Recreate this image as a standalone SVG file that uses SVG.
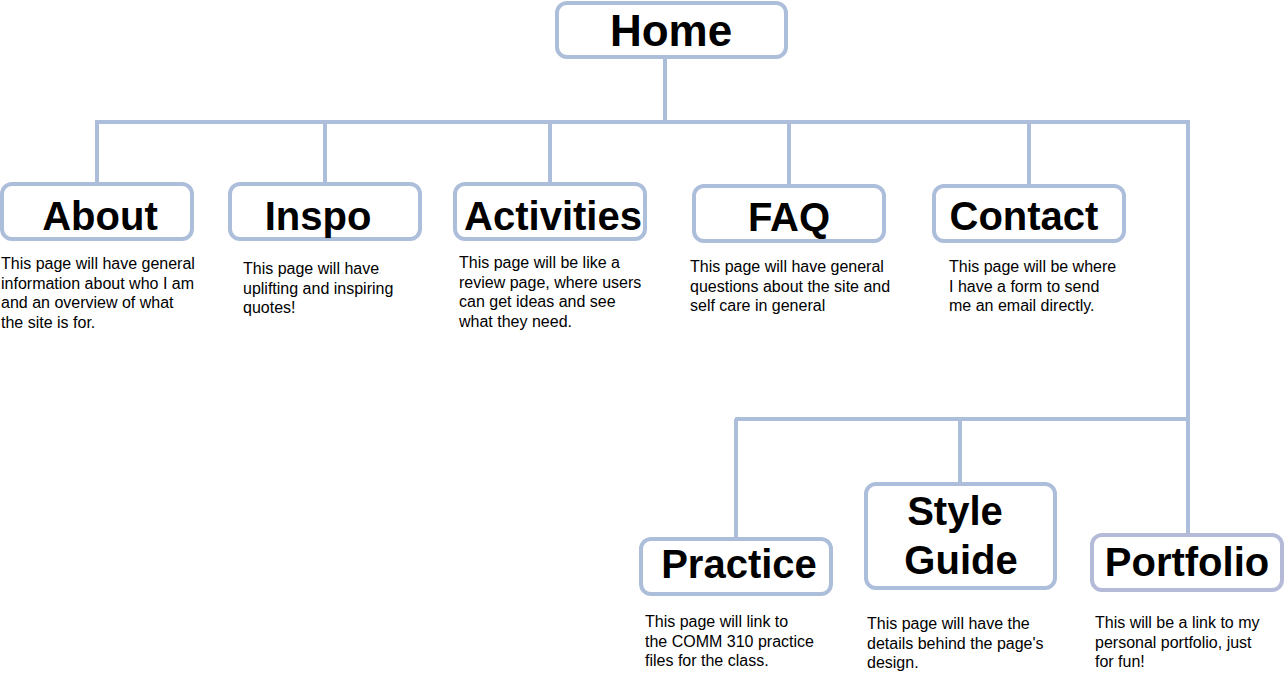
<svg xmlns="http://www.w3.org/2000/svg" width="1285" height="673" viewBox="0 0 1285 673">
<style>
.box{fill:#ffffff;stroke:#adbedb;stroke-width:4}
.ln{stroke:#adbedb;stroke-width:4;fill:none}
.t{font-family:"Liberation Sans",Arial,sans-serif;font-weight:bold;font-size:40px;fill:#000;text-anchor:middle}
.d{font-family:"Liberation Sans",Arial,sans-serif;font-size:16px;fill:#000}
</style>
<rect width="1285" height="673" fill="#ffffff"/>
<g id="connectors">
<path class="ln" d="M665 57V122M96 122H1190M97 120V183M325 120V183M550 120V183M789 122V185M1029 122V185M1188 122V535M735 419H1190M736 419V539M960 419V484"/>
</g>
<g id="home"><rect class="box" x="557" y="3" width="229" height="54" rx="10"/><text class="t" x="671" y="46" style="font-size:44px">Home</text></g>
<g id="about"><rect class="box" x="2" y="184" width="190" height="55" rx="10"/><text class="t" x="100" y="230">About</text>
<text class="d" x="1"><tspan x="1" y="269">This page will have general</tspan><tspan x="1" y="288.5">information about who I am</tspan><tspan x="1" y="308">and an overview of what</tspan><tspan x="1" y="327.5">the site is for.</tspan></text></g>
<g id="inspo"><rect class="box" x="230" y="184" width="190" height="55" rx="10"/><text class="t" x="318" y="230">Inspo</text>
<text class="d"><tspan x="243" y="274">This page will have</tspan><tspan x="243" y="293.5">uplifting and inspiring</tspan><tspan x="243" y="313">quotes!</tspan></text></g>
<g id="activities"><rect class="box" x="455" y="184" width="190" height="55" rx="10"/><text class="t" x="553" y="230">Activities</text>
<text class="d"><tspan x="459" y="268">This page will be like a</tspan><tspan x="459" y="287.5">review page, where users</tspan><tspan x="459" y="307">can get ideas and see</tspan><tspan x="459" y="326.5">what they need.</tspan></text></g>
<g id="faq"><rect class="box" x="694" y="186" width="190" height="55" rx="10"/><text class="t" x="789" y="231">FAQ</text>
<text class="d"><tspan x="690" y="272">This page will have general</tspan><tspan x="690" y="291.5">questions about the site and</tspan><tspan x="690" y="311">self care in general</tspan></text></g>
<g id="contact"><rect class="box" x="934" y="186" width="190" height="55" rx="10"/><text class="t" x="1024" y="230">Contact</text>
<text class="d"><tspan x="949" y="272">This page will be where</tspan><tspan x="949" y="291.5">I have a form to send</tspan><tspan x="949" y="311">me an email directly.</tspan></text></g>
<g id="practice"><rect class="box" x="641" y="539" width="190" height="55" rx="10"/><text class="t" x="739" y="578">Practice</text>
<text class="d"><tspan x="645" y="627">This page will link to</tspan><tspan x="645" y="646.5">the COMM 310 practice</tspan><tspan x="645" y="666">files for the class.</tspan></text></g>
<g id="styleguide"><rect class="box" x="866" y="484" width="189" height="104" rx="10"/><text class="t" x="955" y="525">Style</text><text class="t" x="961" y="574">Guide</text>
<text class="d"><tspan x="867" y="629">This page will have the</tspan><tspan x="867" y="648.5">details behind the page's</tspan><tspan x="867" y="668">design.</tspan></text></g>
<g id="portfolio"><rect class="box" x="1092" y="535" width="190" height="55" rx="10" style="stroke:#b4bad8"/><text class="t" x="1187" y="576">Portfolio</text>
<text class="d"><tspan x="1095" y="628">This will be a link to my</tspan><tspan x="1095" y="647.5">personal portfolio, just</tspan><tspan x="1095" y="667">for fun!</tspan></text></g>
</svg>
